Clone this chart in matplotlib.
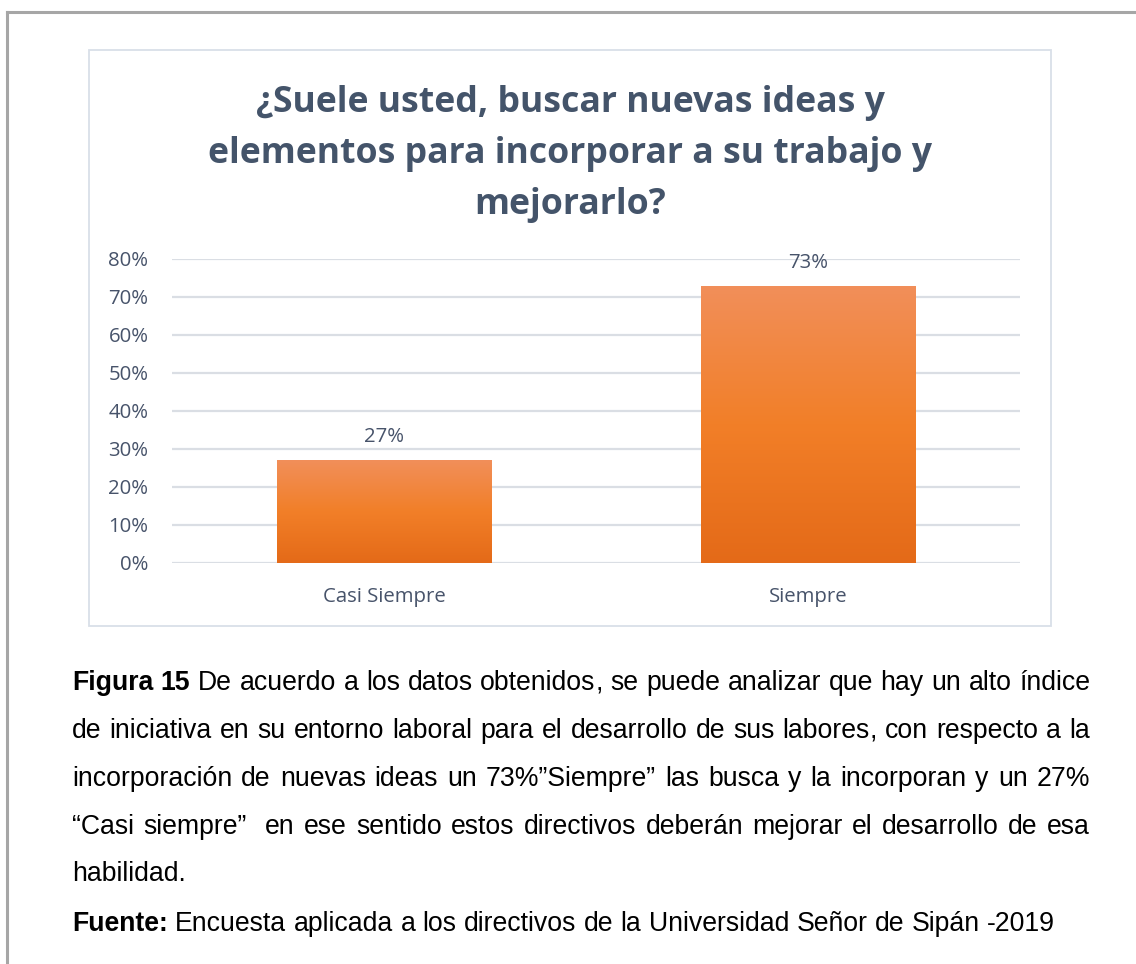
import numpy as np
import matplotlib
matplotlib.use("Agg")
import matplotlib.pyplot as plt
from matplotlib.patches import Rectangle
from matplotlib.lines import Line2D
from matplotlib.colors import LinearSegmentedColormap

# data
categories = ["Casi Siempre", "Siempre"]
values = [0.27, 0.73]
y_ticks = [0.0, 0.1, 0.2, 0.3, 0.4, 0.5, 0.6, 0.7, 0.8]
title_lines = ["¿Suele usted, buscar nuevas ideas y",
               "elementos para incorporar a su trabajo y",
               "mejorarlo?"]
caption_lines = [
    [("Figura 15", "bold"), ("De acuerdo a los datos obtenidos, se puede analizar que hay un alto índice", "normal")],
    [("de iniciativa en su entorno laboral para el desarrollo de sus labores, con respecto a la", "normal")],
    [("incorporación de nuevas ideas un 73%”Siempre” las busca y la incorporan y un 27%", "normal")],
    [("“Casi siempre”  en ese sentido estos directivos deberán mejorar el desarrollo de esa", "normal")],
    [("habilidad.", "normal")],
    [("Fuente:", "bold"), ("Encuesta aplicada a los directivos de la Universidad Señor de Sipán -2019", "normal")],
]
caption_justified = [True, True, True, True, False, False]

W, H = 1136, 964
TITLE_COLOR = "#44546a"
LABEL_COLOR = "#47536a"
GRID_COLOR = "#dadee4"

fig = plt.figure(figsize=(W / 100, H / 100), dpi=100)
fig.patch.set_facecolor("white")


def fx(px):
    return px / W


def fy(py):
    return 1 - py / H


# page border
fig.add_artist(Line2D([fx(7), 1.0], [fy(12), fy(12)], color="#a6a6a6", lw=2.2))
fig.add_artist(Line2D([fx(7), fx(7)], [fy(12), 0.0], color="#a6a6a6", lw=2.2))

# chart frame
frame = Rectangle((fx(89), fy(626)), fx(1051) - fx(89), fy(50) - fy(626),
                  transform=fig.transFigure, facecolor="white",
                  edgecolor="#d9dfe8", lw=1.3, zorder=-1)
fig.add_artist(frame)

# title
for i, line in enumerate(title_lines):
    fig.text(fx(570), fy(112 + 51 * i), line, ha="center", va="baseline",
             fontsize=25.7, fontweight="bold", color=TITLE_COLOR, family="Open Sans")

ax = fig.add_axes([fx(172), fy(563), fx(1020) - fx(172), fy(259) - fy(563)])
ax.set_zorder(2)
ax.set_facecolor("none")
x = np.arange(len(categories))
bars = ax.bar(x, values, width=0.505, color="#f07f2a", zorder=2)

cmap = LinearSegmentedColormap.from_list("orange", ["#e46a18", "#f27f28", "#f18f5a"])
grad = np.linspace(0, 1, 256).reshape(-1, 1)
for b in bars:
    x0, y0, w, h = b.get_x(), b.get_y(), b.get_width(), b.get_height()
    im = ax.imshow(grad, cmap=cmap, extent=[x0, x0 + w, y0, y0 + h], origin="lower",
                   aspect="auto", zorder=3)
    im.set_clip_path(b)

for xi, v in zip(x, values):
    ax.annotate(f"{v * 100:.0f}%", (xi, v), xytext=(0, 13), textcoords="offset points",
                ha="center", va="baseline", fontsize=14.7, color=LABEL_COLOR, family="Open Sans")

ax.set_xlim(-0.5, len(categories) - 0.5)
ax.set_ylim(0, 0.8)
ax.set_yticks(y_ticks)
ax.set_yticklabels([f"{t * 100:.0f}%" for t in y_ticks])
ax.set_xticks(x)
ax.set_xticklabels(categories)
for lab in ax.get_xticklabels() + ax.get_yticklabels():
    lab.set_family("Open Sans")
    lab.set_fontsize(14.7)
    lab.set_color(LABEL_COLOR)
ax.tick_params(axis="y", length=0, pad=17)
ax.tick_params(axis="x", length=0, pad=17)
ax.grid(axis="y", color=GRID_COLOR, lw=1.6, zorder=0)
ax.set_axisbelow(True)
for s in ax.spines.values():
    s.set_visible(False)

# caption, justified like the source document
renderer = fig.canvas.get_renderer()
CAP_SIZE = 19.2
left, right = 72, 1090
base_y = [690, 738, 786, 834, 881, 931]


def measure(s, weight):
    t = fig.text(0, 0, s, fontsize=CAP_SIZE, fontweight=weight, family="Liberation Sans")
    wpx = t.get_window_extent(renderer).width
    t.remove()
    return wpx


def put(s, px, py, weight, ha="left"):
    fig.text(fx(px), fy(py), s, fontsize=CAP_SIZE, fontweight=weight,
             family="Liberation Sans", color="black", va="baseline", ha=ha)


space_w = measure("x x", "normal") - measure("xx", "normal")

for parts, just, by in zip(caption_lines, caption_justified, base_y):
    words = []
    for text, weight in parts:
        for w in text.split(" "):
            words.append((w, weight))
    widths = [measure(w, wt) if w else 0.0 for w, wt in words]
    if just and len(words) > 1:
        gap = (right - left - sum(widths)) / (len(words) - 1)
    else:
        gap = space_w
    cx = left
    for (w, wt), wpx in zip(words, widths):
        if w.endswith(",") and len(w) > 1:
            # comma drawn on its own so the word keeps the common baseline
            put(w[:-1], cx, by, wt)
            put(",", cx + wpx, by, wt, ha="right")
        elif w:
            put(w, cx, by, wt)
        cx += wpx + gap

fig.savefig("out.png", dpi=100, facecolor="white")
